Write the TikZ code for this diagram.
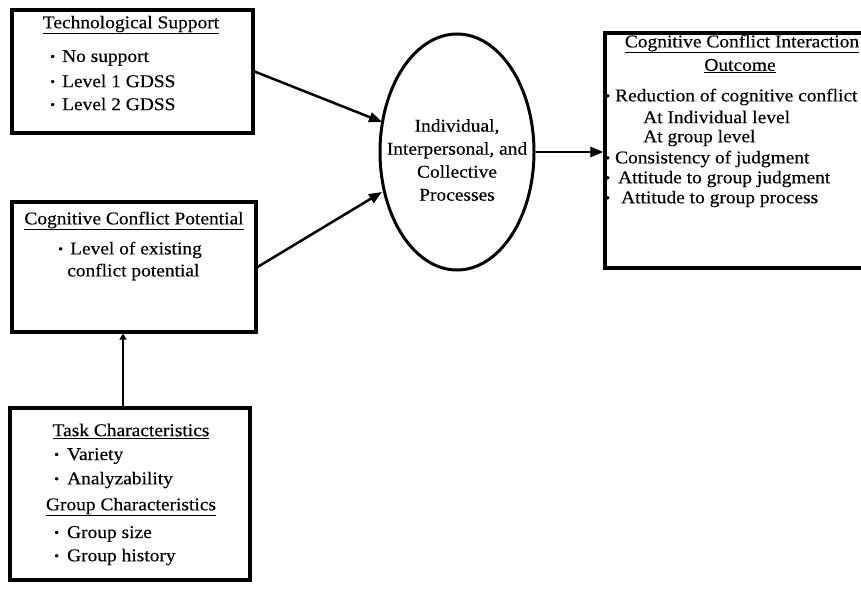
\documentclass[tikz,border=0pt]{standalone}
\usepackage{fontspec}
\setmainfont{Liberation Serif}[FakeStretch=1.08,FakeBold=0.3]
\usetikzlibrary{arrows.meta,shapes.geometric}
\newcommand\bul{\raisebox{0.15ex}{\fontsize{13}{13}\selectfont •}}
\tikzset{
  boxshape/.style={draw, line width=3.1pt, rectangle, inner sep=0pt},
  procshape/.style={draw, line width=3pt, ellipse, inner sep=0pt, minimum width=154pt, minimum height=236pt},
  ln/.style={anchor=west, inner sep=0pt, font=\fontsize{18}{23}\selectfont},
  ttl/.style={anchor=center, inner sep=0pt, font=\fontsize{18}{23}\selectfont},
  arr/.style={line width=2.5pt, -{Triangle[length=13pt,width=10pt]}},
  arrsmall/.style={line width=2.5pt, -{Triangle[length=6pt,width=7pt]}}
}
\begin{document}
\begin{tikzpicture}[x=1pt,y=1pt]
\useasboundingbox (0,0) rectangle (861,-589);
% boxes
\node[boxshape, minimum width=241pt, minimum height=123pt] (tech) at (132.5,-71.5) {};
\node[boxshape, minimum width=244pt, minimum height=130pt] (ccp) at (134,-267) {};
\node[boxshape, minimum width=240pt, minimum height=172pt] (task) at (130,-494) {};
\node[boxshape, minimum width=300pt, minimum height=235pt] (out) at (755,-150.5) {};
\node[procshape] (proc) at (457,-152) {};
% box 1 text
\node[ttl] (t1) at (131,-25) {\underline{Technological Support}};
\node[ln] (b1a) at (50,-58) {\bul\hspace{7pt}No support};
\node[ln] (b1b) at (50,-81) {\bul\hspace{7pt}Level 1 GDSS};
\node[ln] (b1c) at (50,-104) {\bul\hspace{7pt}Level 2 GDSS};
% box 2 text
\node[ttl] (t2) at (134,-221) {\underline{Cognitive Conflict Potential}};
\node[ln] (b2a) at (58,-250) {\bul\hspace{7pt}Level of existing};
\node[ln] (b2b) at (67,-272) {conflict potential};
% box 3 text
\node[ttl] (t3) at (131,-431) {\underline{Task Characteristics}};
\node[ln] (b3a) at (54,-456) {\bul\hspace{8pt}Variety};
\node[ln] (b3b) at (54,-480) {\bul\hspace{8pt}Analyzability};
\node[ttl] (t4) at (131,-507) {\underline{Group Characteristics}};
\node[ln] (b3c) at (54,-534) {\bul\hspace{8pt}Group size};
\node[ln] (b3d) at (54,-557) {\bul\hspace{8pt}Group history};
% ellipse text
\node[ttl, align=center] (ptxt) at (457,-160) {Individual,\\Interpersonal, and\\Collective\\Processes};
% outcome text
\node[ttl] (t5) at (742,-44) {\underline{Cognitive Conflict Interaction}};
\node[ttl] (t6) at (740,-66) {\underline{Outcome}};
\node[ln] (o1) at (605,-97) {\bul\hspace{5pt}Reduction of cognitive conflict};
\node[ln] (o2) at (643,-117) {At Individual level};
\node[ln] (o3) at (643,-138) {At group level};
\node[ln] (o4) at (605,-159) {\bul\hspace{5pt}Consistency of judgment};
\node[ln] (o5) at (605,-179) {\bul\hspace{8pt}Attitude to group judgment};
\node[ln] (o6) at (605,-199) {\bul\hspace{11pt}Attitude to group process};
% connectors
\coordinate (p1) at (382,-122);
\coordinate (p2) at (382,-192);
\draw[arr] (tech.east) -- (p1);
\draw[arr] (ccp.east) -- (p2);
\draw[arr] (proc.east) -- (proc.east -| out.west);
\draw[arrsmall] (task.north -| 123,0) -- (ccp.south -| 123,0);
\end{tikzpicture}
\end{document}
